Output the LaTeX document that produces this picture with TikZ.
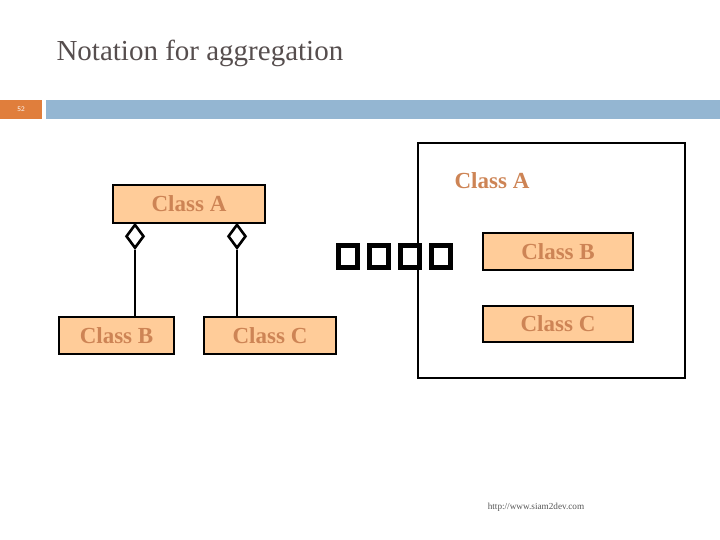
\documentclass[tikz,border=0pt]{standalone}
\usepackage{fontspec}
\setmainfont{Liberation Serif}
\usetikzlibrary{shapes.geometric}
\definecolor{Ink}{HTML}{564E4E}
\definecolor{Peach}{HTML}{FFCC99}
\definecolor{Clay}{HTML}{CD8455}
\definecolor{Pumpkin}{HTML}{E07E3C}
\definecolor{Steel}{HTML}{94B6D2}
\definecolor{Muted}{HTML}{555555}

\begin{document}
\begin{tikzpicture}[x=1pt,y=-1pt,
    classbox/.style={draw=black,line width=2pt,fill=Peach,text=Clay,
      font=\bfseries\fontsize{23}{25}\selectfont,inner sep=0pt},
    aggmark/.style={diamond,draw=black,line width=2.6pt,fill=white,
      minimum width=18pt,minimum height=24pt,inner sep=0pt,aspect=0.75},
    portbox/.style={draw=black,line width=5pt,minimum width=19pt,
      minimum height=22pt,inner sep=0pt},
    link/.style={line width=2.6pt,black}]
  \useasboundingbox (0,0) rectangle (720,540);
  % header
  \node[anchor=west,font=\fontsize{29}{32}\selectfont,text=Ink] (title) at (53,53) {Notation for aggregation};
  \fill[Pumpkin] (0,100) rectangle (42,119);
  \node[font=\sffamily\fontsize{7}{8}\selectfont,text=white] (pagenum) at (21,109.5) {52};
  \fill[Steel] (46,100) rectangle (720,119);

  % left: diamond notation
  \node[classbox,minimum width=152pt,minimum height=38pt] (leftA) at (189,204) {Class A};
  \node[classbox,minimum width=115pt,minimum height=37pt] (leftB) at (116.5,335.5) {Class B};
  \node[classbox,minimum width=132pt,minimum height=37pt] (leftC) at (270,335.5) {Class C};
  \node[aggmark,anchor=north] (diaB) at (135,223) {};
  \node[aggmark,anchor=north] (diaC) at (237,223) {};
  \draw[link] (diaB.south) -- (diaB.south |- leftB.north);
  \draw[link] (diaC.south) -- (diaC.south |- leftC.north);

  % right: nested notation
  \draw[line width=2.6pt] (418,143) rectangle (685,378);
  \node[text=Clay,font=\bfseries\fontsize{23}{25}\selectfont] (innerA) at (492,181) {Class A};
  \node[classbox,minimum width=150pt,minimum height=37pt] (rightB) at (558,251.5) {Class B};
  \node[classbox,minimum width=150pt,minimum height=36pt] (rightC) at (558,324) {Class C};
  \foreach \k in {0,...,3}
    \node[portbox] (port\k) at (347.5+31.3*\k,256) {};

  \node[font=\fontsize{9.2}{11}\selectfont,text=Muted] (url) at (536,507) {http://www.siam2dev.com};
\end{tikzpicture}
\end{document}
